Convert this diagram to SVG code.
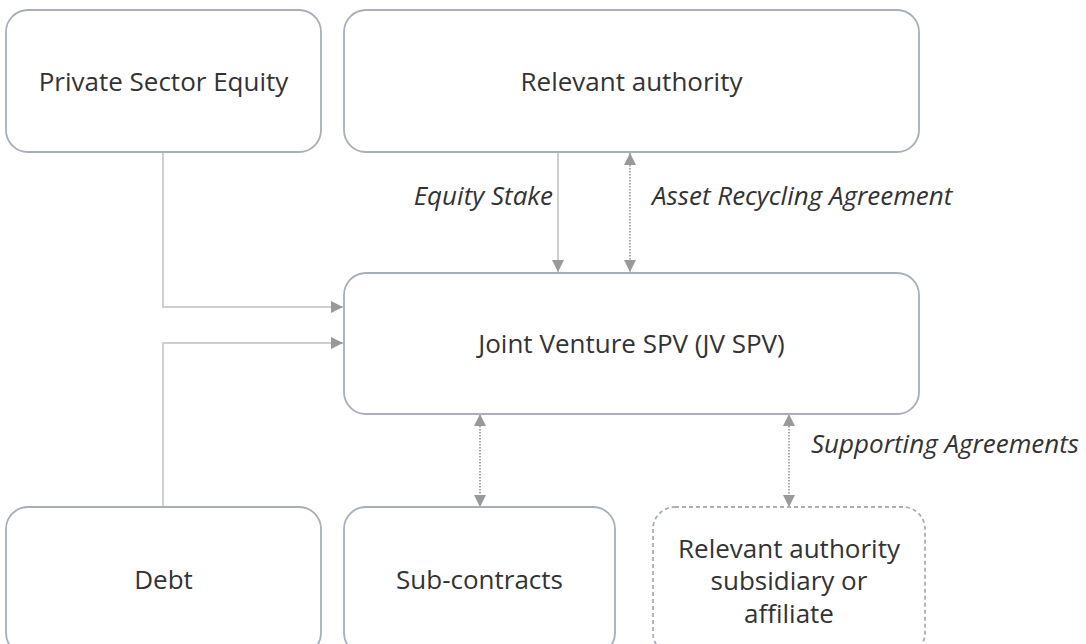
<svg xmlns="http://www.w3.org/2000/svg" width="1086" height="644" viewBox="0 0 1086 644">
<defs>
<style>
.box{fill:#fff;stroke:#a7afbb;stroke-width:1.8}
.dash{stroke-dasharray:4 3}
.t{font-family:"Open Sans","DejaVu Sans",sans-serif;font-size:26px;fill:#333;text-anchor:middle}
.lbl{font-family:"Open Sans","DejaVu Sans",sans-serif;font-size:26px;font-style:italic;fill:#333}
.ln{fill:none;stroke:#cfcfcf;stroke-width:2}
.dot{fill:none;stroke:#aaa;stroke-width:2;stroke-dasharray:1.5 1.5}
</style>
<marker id="ah" viewBox="0 0 10 10" refX="10" refY="5" markerWidth="12" markerHeight="12" markerUnits="userSpaceOnUse" orient="auto-start-reverse">
<path d="M0,0 L10,5 L0,10 z" fill="#999"/>
</marker>
</defs>
<rect width="1086" height="644" fill="#fff"/>
<g id="connectors">
<path class="ln" d="M163,152 V307 H343" marker-end="url(#ah)"/>
<path class="ln" d="M163,507 V343 H343" marker-end="url(#ah)"/>
<path class="ln" d="M558,152 V272" marker-end="url(#ah)"/>
<path class="dot" d="M630,153 V272" marker-start="url(#ah)" marker-end="url(#ah)"/>
<path class="dot" d="M480,414 V507" marker-start="url(#ah)" marker-end="url(#ah)"/>
<path class="dot" d="M789,414 V507" marker-start="url(#ah)" marker-end="url(#ah)"/>
<text class="lbl" x="553" y="205" text-anchor="end">Equity Stake</text>
<text class="lbl" x="652" y="205">Asset Recycling Agreement</text>
<text class="lbl" x="811" y="453">Supporting Agreements</text>
</g>
<g id="private-sector-equity">
<rect class="box" x="6" y="10" width="315" height="142" rx="22"/>
<text class="t" x="163.5" y="91">Private Sector Equity</text>
</g>
<g id="relevant-authority">
<rect class="box" x="344" y="10" width="575" height="142" rx="22"/>
<text class="t" x="631.5" y="91">Relevant authority</text>
</g>
<g id="jv-spv">
<rect class="box" x="344" y="273" width="575" height="141" rx="22"/>
<text class="t" x="631.5" y="353">Joint Venture SPV (JV SPV)</text>
</g>
<g id="debt">
<rect class="box" x="6" y="507" width="315" height="148" rx="22"/>
<text class="t" x="163.5" y="589">Debt</text>
</g>
<g id="sub-contracts">
<rect class="box" x="344" y="507" width="271" height="148" rx="22"/>
<text class="t" x="479.5" y="589">Sub-contracts</text>
</g>
<g id="subsidiary">
<rect class="box dash" x="653" y="507" width="272" height="148" rx="22"/>
<text class="t" x="789" y="558">Relevant authority</text>
<text class="t" x="789" y="590">subsidiary or</text>
<text class="t" x="789" y="623">affiliate</text>
</g>
</svg>
